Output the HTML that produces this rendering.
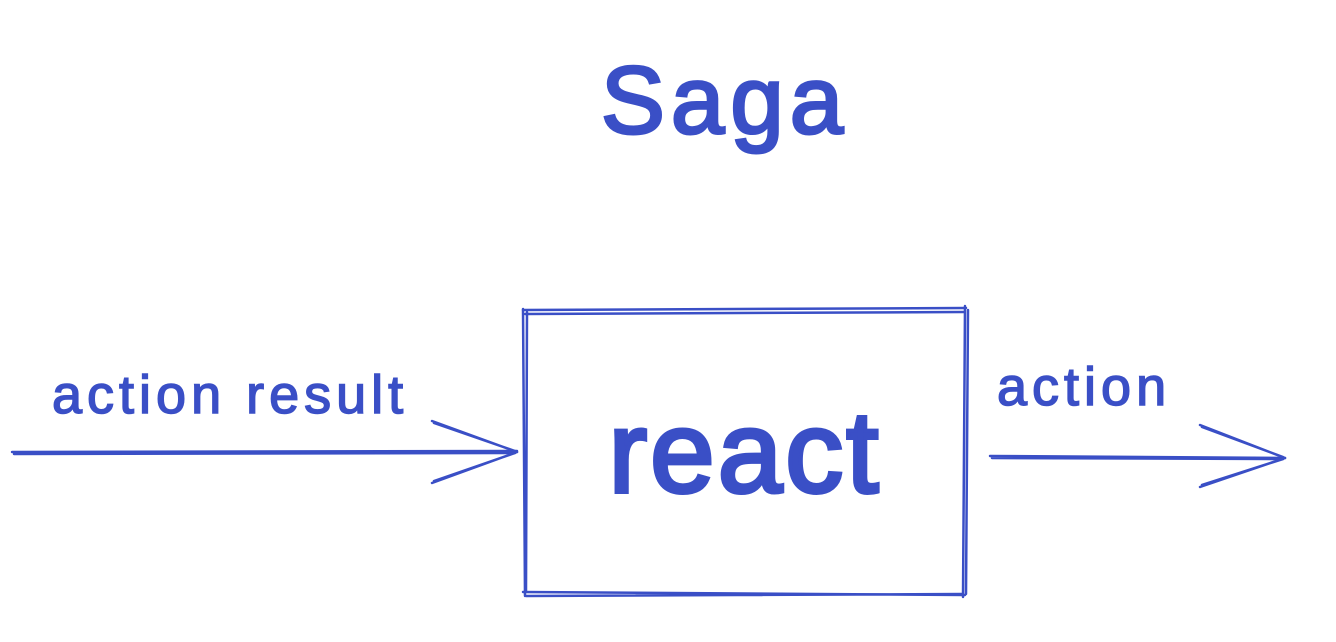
<!DOCTYPE html>
<html><head><meta charset="utf-8"><style>
html,body{margin:0;padding:0;background:#fff;width:1336px;height:642px;overflow:hidden}
svg{display:block}
text{font-family:"Liberation Sans",sans-serif;fill:#3a4fc6}
</style></head><body>
<svg width="1336" height="642" viewBox="0 0 1336 642">
<g fill="none" stroke="#3a4fc6" stroke-width="2.5" stroke-linecap="round">
<path d="M523 310 L966 308 M525 314 L964 312"/>
<path d="M523 592 L965 595 M526 596 L962 594"/>
<path d="M523 309 L525 596 M527 312 L526 592"/>
<path d="M965 306 L963 597 M968 310 L966 594"/>
<path d="M12 452 L517 451 M14 454 L515 453"/>
<path d="M432 421 L517 452 M434 423 L515 451"/>
<path d="M432 483 L517 452 M434 481 L515 453"/>
<path d="M990 456 L1285 458 M992 458 L1283 459"/>
<path d="M1200 425 L1285 458 M1202 427 L1283 457"/>
<path d="M1200 487 L1285 458 M1202 485 L1283 459"/>
</g>
<text x="725" y="133" font-size="96" letter-spacing="6" text-anchor="middle" stroke="#3a4fc6" stroke-width="3">Saga</text>
<text x="745" y="492" font-size="116" letter-spacing="3" text-anchor="middle" stroke="#3a4fc6" stroke-width="4">react</text>
<text x="52" y="413" font-size="54" letter-spacing="5" stroke="#3a4fc6" stroke-width="1.5">action result</text>
<text x="997" y="405" font-size="54" letter-spacing="5" stroke="#3a4fc6" stroke-width="1.5">action</text>
</svg>
</body></html>
